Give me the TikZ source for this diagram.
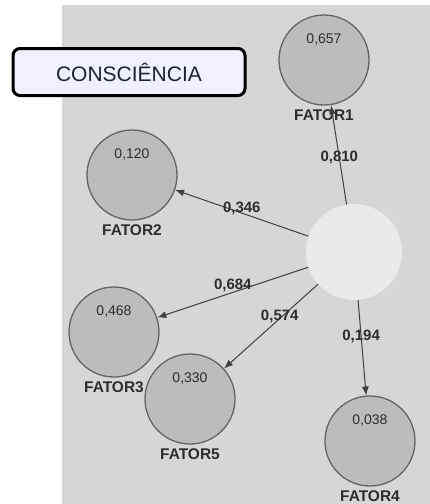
\documentclass[tikz,border=0pt]{standalone}
\usepackage{fontspec}
\setmainfont{Liberation Sans}
\definecolor{bggray}{RGB}{214,214,214}
\definecolor{fatorfill}{RGB}{188,188,188}
\definecolor{fatordraw}{RGB}{100,100,100}
\definecolor{corefill}{RGB}{234,234,234}
\definecolor{tnavy}{RGB}{28,34,51}
\definecolor{txtgray}{RGB}{45,45,45}
\usetikzlibrary{arrows.meta,positioning}
\tikzset{
    fator/.style={
        circle, draw=fatordraw, line width=1.3pt, fill=fatorfill,
        minimum size=90pt, inner sep=0pt
    },
    core/.style={
        circle, fill=corefill, minimum size=96pt, inner sep=0pt
    },
    fval/.style={
        font=\fontsize{14}{16}\selectfont, text=txtgray, inner sep=0pt
    },
    fname/.style={
        font=\fontsize{15.5}{18}\selectfont\bfseries, text=txtgray, inner sep=0pt
    },
    load/.style={
        font=\fontsize{15}{17}\selectfont\bfseries, text=txtgray, inner sep=1pt
    },
    titlebox/.style={
        draw=black, line width=3pt, rounded corners=7pt, fill=white!94!blue,
        minimum width=232pt, minimum height=47pt, text=tnavy,
        font=\fontsize{21}{24}\selectfont
    },
    arrow/.style={
        -{Latex[length=9pt,width=7pt]}, line width=1pt, draw=black!75
    }
}
\begin{document}
\begin{tikzpicture}[x=1pt,y=-1pt]
\useasboundingbox (0,0) rectangle (430,504);
\fill[bggray] (62,5) rectangle (430,504);
% factor circles
\node[fator] (f1) at (324,60) {};
\node[fator] (f2) at (132,175) {};
\node[fator] (f3) at (114,332) {};
\node[fator] (f5) at (190,399) {};
\node[fator] (f4) at (370,441) {};
\node[core] (c) at (354,252) {};
% values and names
\foreach \f/\v/\n in {f1/{0,657}/FATOR1, f2/{0,120}/FATOR2, f3/{0,468}/FATOR3,
                      f5/{0,330}/FATOR5, f4/{0,038}/FATOR4}{
  \node[fval, below=19pt of \f.north] (v\f) {\v};
  \node[fname, below=4pt of \f.south] (n\f) {\n};
}
\node[titlebox] (t) at (129,72) {CONSCIÊNCIA};
% loadings
\draw[arrow] (c) -- node[load, pos=0.47] (l1) {0,810} (f1);
\draw[arrow] (c) -- node[load, pos=0.5, yshift=5pt] (l2) {0,346} (f2);
\draw[arrow] (c) -- node[load, pos=0.5, yshift=7pt] (l3) {0,684} (f3);
\draw[arrow] (c) -- node[load, pos=0.45, xshift=4pt, yshift=6pt] (l5) {0,574} (f5);
\draw[arrow] (c) -- node[load, pos=0.38] (l4) {0,194} (f4);
\end{tikzpicture}
\end{document}
